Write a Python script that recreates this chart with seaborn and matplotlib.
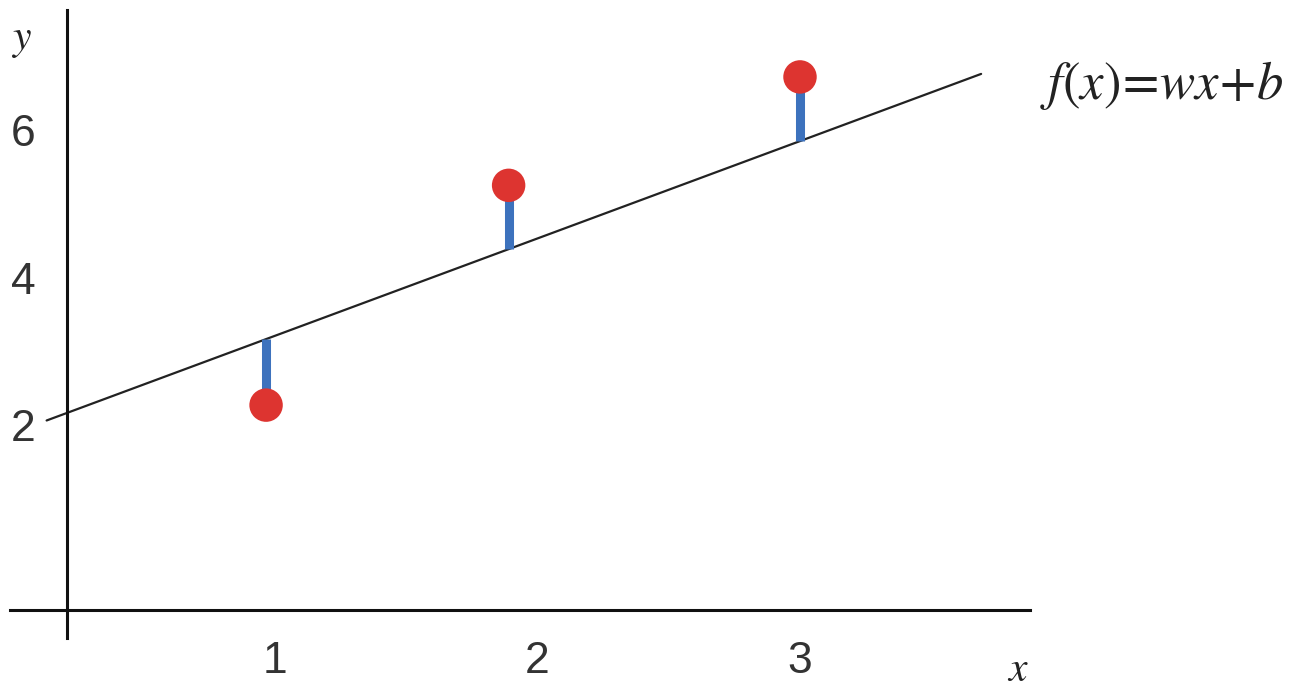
import numpy as np
import pandas as pd
import matplotlib.pyplot as plt
import seaborn as sns

# observed points
x_obs = [0.966, 1.89, 3.0]
y_obs = [2.27, 5.25, 6.72]

# fitted line f(x) = w x + b
w = 1.32
b = 1.89
line_x = [0.13, 3.69]

x_ticks = [1, 2, 3]
y_ticks = [2, 4, 6]

sns.set_theme(style="white")
plt.rcParams['font.family'] = ['Liberation Sans', 'DejaVu Sans']
plt.rcParams['mathtext.fontset'] = 'stix'

fig = plt.figure(figsize=(13.04, 6.94), dpi=100)
ax = fig.add_axes([0, 0, 1, 1])
ax.set_xlim(-0.0476, 4.92)
ax.set_ylim(-1.647, 7.763)

df_pts = pd.DataFrame({"x": x_obs, "y": y_obs})
df_line = pd.DataFrame({"x": line_x, "y": [w * v + b for v in line_x]})

# regression line
sns.lineplot(data=df_line, x="x", y="y", color="#222222", lw=1.6, ax=ax, zorder=2)

# residuals
fitted = [w * v + b for v in x_obs]
ax.vlines(x_obs, y_obs, fitted, color="#3d72bd", lw=6.5, zorder=3)

# points
sns.scatterplot(data=df_pts, x="x", y="y", color="#dd3430", s=580,
                edgecolor="none", ax=ax, zorder=4)

# axes drawn through the data space
for side in ["top", "right"]:
    ax.spines[side].set_visible(False)
ax.spines["left"].set_position(("data", 0.208))
ax.spines["left"].set_bounds(-0.89, 7.63)
ax.spines["bottom"].set_position(("data", -0.508))
ax.spines["bottom"].set_bounds(-0.01, 3.876)
for side in ["left", "bottom"]:
    ax.spines[side].set_color("#111111")
    ax.spines[side].set_linewidth(2.2)

ax.set_xticks(x_ticks)
ax.set_yticks(y_ticks)
ax.tick_params(axis="x", length=0, pad=22, labelsize=32, labelcolor="#333333")
ax.tick_params(axis="y", length=0, pad=23, labelsize=32, labelcolor="#333333")
ax.set_xlabel("")
ax.set_ylabel("")
ax.grid(False)

ax.text(0.035, 7.22, r"$y$", fontsize=30, ha="center", va="center", color="#222222")
ax.text(3.83, -1.32, r"$x$", fontsize=30, ha="center", va="center", color="#222222")
ax.text(3.915, 6.6, r"$f(x)\!=\!wx\!+\!b$", fontsize=38, ha="left", va="center",
        color="#222222")

fig.savefig("out.png", dpi=100)
